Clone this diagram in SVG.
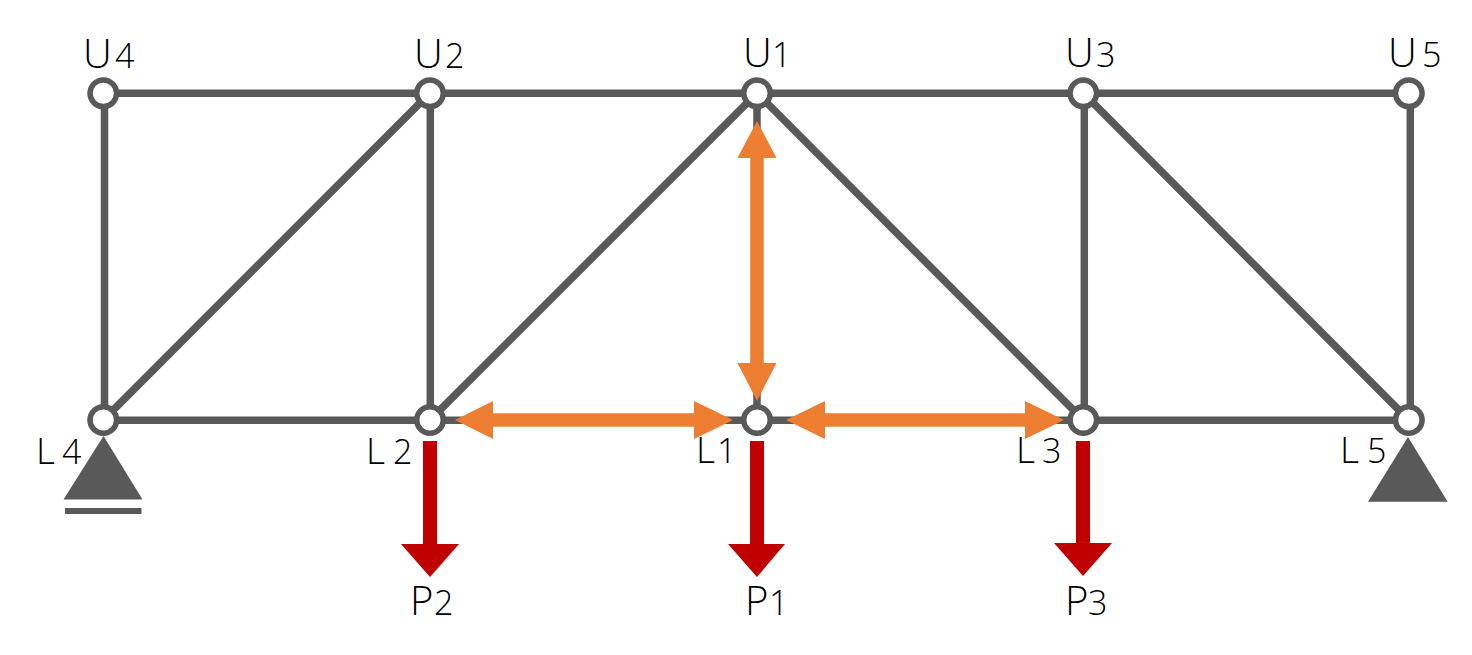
<svg xmlns="http://www.w3.org/2000/svg" width="1472" height="655" viewBox="0 0 1472 655">
<style>
.m{stroke:#595959;stroke-width:7.500;fill:none}
.o{stroke:#ed7d31;stroke-width:13.500;fill:none}
.r{stroke:#c00000;stroke-width:14;fill:none}
.of{fill:#ed7d31}.rf{fill:#c00000}.gf{fill:#595959}
circle{fill:#fff;stroke:#595959;stroke-width:5.500}
text{font-family:"Open Sans","Liberation Sans",sans-serif;font-size:37px;font-weight:350;fill:#000}
.b{font-size:40px}
tspan{font-size:34px}
</style>
<rect width="1472" height="655" fill="#fff"/>
<g id="connectors">
<path class="m" d="M103.300 93.300H1408.800M103.300 420.200H1408.800M104.500 93V420M430.300 93V420M757 93V420M1084.300 93V420M1410.300 93V420M103.300 420L430 93M430 420L757 93M757 93L1083.300 420M1083.300 93L1408.800 420"/>
<path class="o" d="M757 150V370M485 420H702M817 420H1033"/>
<polygon class="of" points="757,121 776.500,158 737.500,158"/>
<polygon class="of" points="757,401 776.500,363 737.500,363"/>
<polygon class="of" points="455,420 493,401 493,439"/>
<polygon class="of" points="733,420 694,401 694,439"/>
<polygon class="of" points="786,420 825,401 825,439"/>
<polygon class="of" points="1064,420 1025,401 1025,439"/>
<path class="r" d="M430 441V550M757 441V550M1083 441V550"/>
<polygon class="rf" points="430,577 401,544 459,544"/>
<polygon class="rf" points="757,577 728,544 785,544"/>
<polygon class="rf" points="1083,576 1054,543 1112,543"/>
</g>
<g id="support-L4"><polygon class="gf" points="103.500,436 142.500,499.500 63.500,499.500"/><rect class="gf" x="65" y="508" width="76.500" height="6"/></g>
<g id="support-L5"><polygon class="gf" points="1408,437 1447.700,501.700 1368,501.700"/></g>
<g id="U4"><circle cx="103.300" cy="93.300" r="13.300"/><text class="b" x="83" y="68">U<tspan x="115">4</tspan></text></g>
<g id="U2"><circle cx="430" cy="93.300" r="13.300"/><text class="b" x="414" y="68">U<tspan x="445">2</tspan></text></g>
<g id="U1"><circle cx="757" cy="93.300" r="13.300"/><text class="b" x="743" y="67">U<tspan x="772">1</tspan></text></g>
<g id="U3"><circle cx="1083.300" cy="93.300" r="13.300"/><text class="b" x="1065" y="67">U<tspan x="1096">3</tspan></text></g>
<g id="U5"><circle cx="1408.800" cy="93.300" r="13.300"/><text class="b" x="1388" y="67">U<tspan x="1422">5</tspan></text></g>
<g id="L4"><circle cx="103.300" cy="420" r="13.300"/><text x="36" y="464">L<tspan x="62">4</tspan></text></g>
<g id="L2"><circle cx="430" cy="420" r="13.300"/><text x="366" y="464">L<tspan x="393">2</tspan></text></g>
<g id="L1"><circle cx="757" cy="420" r="13.300"/><text x="696" y="463">L<tspan x="717">1</tspan></text></g>
<g id="L3"><circle cx="1083.300" cy="420" r="13.300"/><text x="1016" y="463">L<tspan x="1042">3</tspan></text></g>
<g id="L5"><circle cx="1408.800" cy="420" r="13.300"/><text x="1340" y="463">L<tspan x="1367">5</tspan></text></g>
<g id="P2"><text class="b" x="410" y="615">P<tspan x="434">2</tspan></text></g>
<g id="P1"><text class="b" x="745" y="615">P<tspan x="769">1</tspan></text></g>
<g id="P3"><text class="b" x="1065" y="615">P<tspan x="1088">3</tspan></text></g>
</svg>
